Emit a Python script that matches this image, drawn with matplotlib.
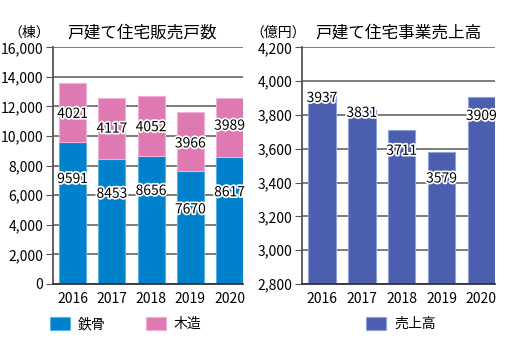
import matplotlib
matplotlib.use("Agg")
import matplotlib.pyplot as plt
import matplotlib.patheffects as pe
from matplotlib.patches import Rectangle
import numpy as np

plt.rcParams["font.family"] = ["Noto Sans CJK JP", "DejaVu Sans"]
plt.rcParams["font.size"] = 10

years = ["2016", "2017", "2018", "2019", "2020"]
steel = [9591, 8453, 8656, 7670, 8617]
wood = [4021, 4117, 4052, 3966, 3989]
sales = [3937, 3831, 3711, 3579, 3909]

# where the value labels sit (data units)
steel_label_y = [7100, 6100, 6300, 5040, 6200]
wood_label_y = [11500, 10500, 10600, 9500, 10700]
sales_label_y = [3900, 3812, 3588, 3424, 3794]

BLUE = "#0081CC"
PINK = "#DE79B2"
NAVY = "#4B5FAE"

fig = plt.figure(figsize=(5.05, 3.47), dpi=100)
ax1 = fig.add_axes([0.105, 0.1816, 0.376, 0.682])
ax2 = fig.add_axes([0.598, 0.1816, 0.382, 0.682])

x = np.arange(len(years))
w = 0.69
stroke = [pe.withStroke(linewidth=2.5, foreground="white")]


def style(ax, ylim, step):
    ax.set_xlim(-0.5, 4.34)
    ax.set_ylim(*ylim)
    ticks = np.arange(ylim[0], ylim[1] + 1, step)
    ax.set_yticks(ticks)
    ax.set_yticklabels([f"{t:,}" for t in ticks])
    ax.set_xticks(x)
    ax.set_xticklabels(years)
    ax.yaxis.grid(True, color="#666666", lw=1.2)
    ax.set_axisbelow(True)
    for s in ("top", "right"):
        ax.spines[s].set_visible(False)
    ax.spines["left"].set_color("#555555")
    ax.spines["left"].set_linewidth(1.3)
    ax.spines["bottom"].set_color("#333333")
    ax.spines["bottom"].set_linewidth(1.3)
    ax.tick_params(axis="y", length=5, color="#555555", labelsize=10, pad=2)
    ax.tick_params(axis="x", length=0, labelsize=10, pad=6)


ax1.bar(x, steel, w, color=BLUE, edgecolor="#5AB0E6", lw=0.8, zorder=2)
ax1.bar(x, wood, w, bottom=steel, color=PINK, edgecolor="#F0B0D4", lw=0.8, zorder=2)
for i in range(len(years)):
    ax1.text(x[i], steel_label_y[i], str(steel[i]), ha="center", va="center",
             fontsize=10, path_effects=stroke, zorder=3)
    ax1.text(x[i], wood_label_y[i], str(wood[i]), ha="center", va="center",
             fontsize=10, path_effects=stroke, zorder=3)
style(ax1, (0, 16000), 2000)

ax2.bar(x, sales, w, color=NAVY, edgecolor="#8FA0DA", lw=0.8, zorder=2)
for i in range(len(years)):
    ax2.text(x[i], sales_label_y[i], str(sales[i]), ha="center", va="center",
             fontsize=10, path_effects=stroke, zorder=3)
style(ax2, (2800, 4200), 200)

# titles and units
fig.text(0.058, 0.905, "（棟）", ha="center", va="center", fontsize=10)
fig.text(0.281, 0.905, "戸建て住宅販売戸数", ha="center", va="center", fontsize=12)
fig.text(0.551, 0.905, "（億円）", ha="center", va="center", fontsize=10)
fig.text(0.790, 0.905, "戸建て住宅事業売上高", ha="center", va="center", fontsize=12)

# legends
def legend_item(xp, color, edge, label):
    fig.patches.append(Rectangle((xp / 505, 1 - 330 / 347), 20 / 505, 13 / 347,
                                 transform=fig.transFigure, facecolor=color,
                                 edgecolor=edge, lw=0.8))
    fig.text((xp + 28) / 505, 1 - 324 / 347, label, ha="left", va="center", fontsize=10)

legend_item(50, BLUE, "#5AB0E6", "鉄骨")
legend_item(146, PINK, "#F0B0D4", "木造")
legend_item(366, NAVY, "#8FA0DA", "売上高")

fig.savefig("out.png", dpi=100)
